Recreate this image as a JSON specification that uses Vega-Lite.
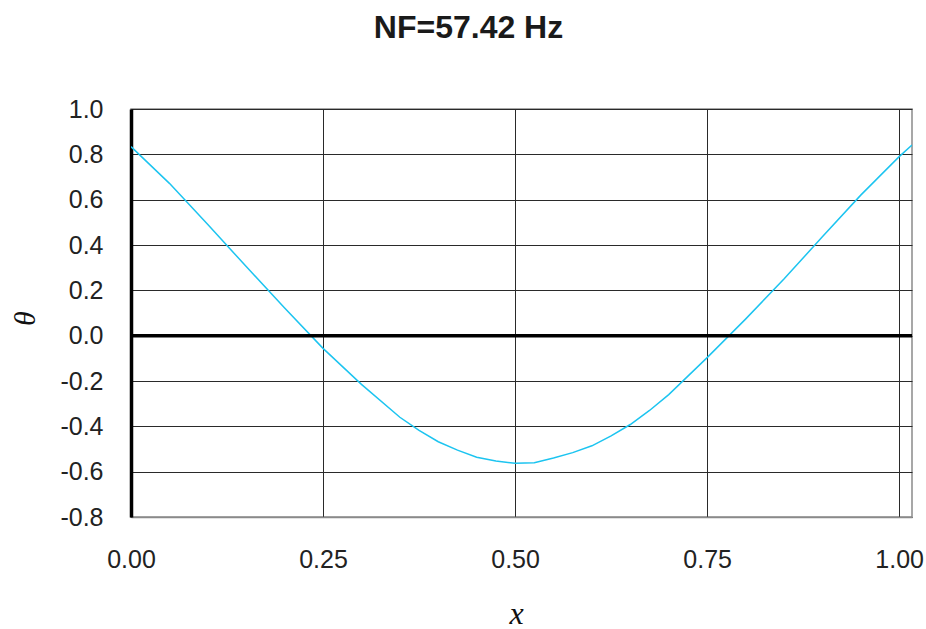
{
  "$schema": "https://vega.github.io/schema/vega-lite/v6.json",
  "width": 781,
  "height": 408,
  "autosize": {"type": "none"},
  "padding": {"left": 131, "top": 109, "right": 14, "bottom": 112},
  "background": "white",
  "config": {
    "view": {"stroke": "#8a8a8a", "strokeWidth": 1.5},
    "font": "Liberation Sans"
  },
  "title": {
    "text": "NF=57.42 Hz",
    "font": "Liberation Sans",
    "fontSize": 32,
    "fontWeight": "bold",
    "color": "#1a1a1a",
    "anchor": "middle",
    "dx": -53,
    "baseline": "alphabetic",
    "offset": 27
  },
  "data": {
    "values": [
      {"x": 0.0, "theta": 0.834},
      {"x": 0.05, "theta": 0.672},
      {"x": 0.1, "theta": 0.49},
      {"x": 0.15, "theta": 0.305},
      {"x": 0.2, "theta": 0.122},
      {"x": 0.25, "theta": -0.056},
      {"x": 0.3, "theta": -0.215},
      {"x": 0.35, "theta": -0.36},
      {"x": 0.375, "theta": -0.418},
      {"x": 0.4, "theta": -0.468},
      {"x": 0.425, "theta": -0.505},
      {"x": 0.45, "theta": -0.536},
      {"x": 0.475, "theta": -0.553},
      {"x": 0.5, "theta": -0.563},
      {"x": 0.525, "theta": -0.561},
      {"x": 0.55, "theta": -0.54},
      {"x": 0.575, "theta": -0.516},
      {"x": 0.6, "theta": -0.486},
      {"x": 0.625, "theta": -0.442},
      {"x": 0.65, "theta": -0.392},
      {"x": 0.675, "theta": -0.33},
      {"x": 0.7, "theta": -0.26},
      {"x": 0.75, "theta": -0.097},
      {"x": 0.8, "theta": 0.073},
      {"x": 0.85, "theta": 0.25},
      {"x": 0.9, "theta": 0.436},
      {"x": 0.95, "theta": 0.62},
      {"x": 1.0, "theta": 0.79},
      {"x": 1.0167, "theta": 0.841}
    ]
  },
  "layer": [
    {
      "mark": {"type": "line", "color": "#1cc4f0", "strokeWidth": 1.5, "clip": true},
      "encoding": {
        "x": {
          "field": "x",
          "type": "quantitative",
          "scale": {"domain": [0, 1.0167], "nice": false, "zero": false},
          "axis": {
            "values": [0, 0.25, 0.5, 0.75, 1.0],
            "format": ".2f",
            "title": "x",
            "titleFont": "Liberation Serif",
            "titleFontStyle": "italic",
            "titleFontWeight": "normal",
            "titleFontSize": 32,
            "titleColor": "#111",
            "titleBaseline": "alphabetic",
            "titleX": 385,
            "titleY": 106,
            "labelFont": "Liberation Sans",
            "labelFontSize": 25,
            "labelColor": "#222",
            "labelPadding": 30,
            "labelFlush": false,
            "labelOverlap": false,
            "ticks": false,
            "domain": true,
            "domainColor": "#8a8a8a",
            "domainWidth": 1.5,
            "grid": true,
            "gridColor": "#2a2a2a",
            "gridWidth": 1,
            "gridOpacity": 1
          }
        },
        "y": {
          "field": "theta",
          "type": "quantitative",
          "scale": {"domain": [-0.8, 1.0], "nice": false, "zero": false},
          "axis": {
            "values": [-0.8, -0.6, -0.4, -0.2, 0, 0.2, 0.4, 0.6, 0.8, 1.0],
            "labelExpr": "datum.value < 0 ? '-' + format(-datum.value, '.1f') : format(datum.value, '.1f')",
            "title": "θ",
            "titleFont": "Liberation Serif",
            "titleFontStyle": "italic",
            "titleFontWeight": "normal",
            "titleFontSize": 30,
            "titleColor": "#111",
            "titleAngle": -90,
            "titleAlign": "center",
            "titleBaseline": "alphabetic",
            "titleX": -97,
            "titleY": 209,
            "labelFont": "Liberation Sans",
            "labelFontSize": 25,
            "labelColor": "#222",
            "labelPadding": 28,
            "labelFlush": false,
            "labelOverlap": false,
            "ticks": false,
            "domain": true,
            "domainColor": "#000000",
            "domainWidth": 3.5,
            "grid": true,
            "gridColor": "#2a2a2a",
            "gridWidth": 1,
            "gridOpacity": 1
          }
        }
      }
    },
    {
      "data": {"values": [{"y0": 0}]},
      "mark": {"type": "rule", "color": "#000000", "strokeWidth": 3.5},
      "encoding": {
        "y": {"field": "y0", "type": "quantitative"}
      }
    }
  ]
}
